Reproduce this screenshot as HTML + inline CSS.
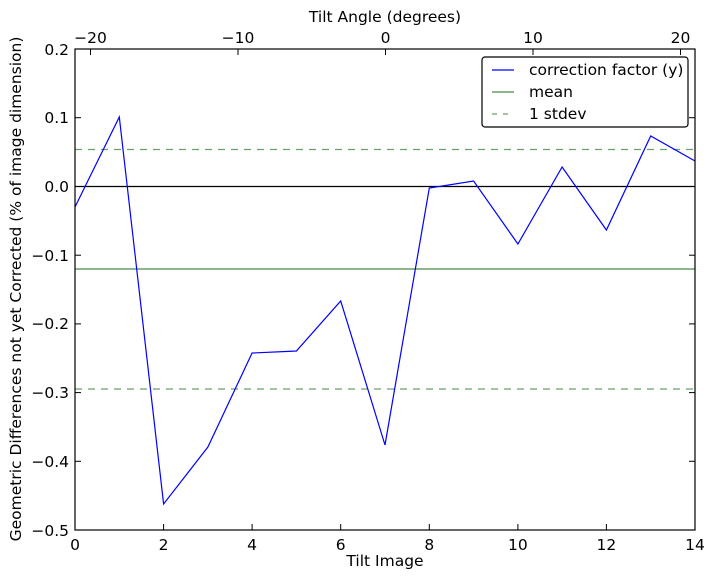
<!DOCTYPE html>
<html><head><style>body{margin:0;background:#fff}svg{display:block}text{font-family:"DejaVu Sans","Liberation Sans",sans-serif;font-size:15.5px;fill:#000}</style></head>
<body>
<svg width="714" height="579" viewBox="0 0 714 579">
<rect width="714" height="579" fill="#fff"/>
<g stroke-width="1.2" fill="none">
<line x1="75" y1="269" x2="695" y2="269" stroke="#4a8a4a"/>
<line x1="75" y1="149.5" x2="695" y2="149.5" stroke-dasharray="7,6" stroke="#6aa06a"/>
<line x1="75" y1="389" x2="695" y2="389" stroke-dasharray="7,6" stroke="#6aa06a"/>
</g>
<line x1="75" y1="186.5" x2="695" y2="186.5" stroke="#000" stroke-width="1.2"/>
<polyline fill="none" stroke="#0000ff" stroke-width="1.2" points="75,207 119.3,117 163.6,504 207.9,447 252.1,353 296.4,351 340.7,301 385,445 429.3,188 473.6,181 517.9,244 562.1,167 606.4,230 650.7,136 695,161"/>
<rect x="75" y="49" width="620" height="481" fill="none" stroke="#000" stroke-width="1.2"/>
<g stroke="#000" stroke-width="1">
<line x1="75" y1="530" x2="75" y2="524"/><line x1="163.6" y1="530" x2="163.6" y2="524"/><line x1="252.1" y1="530" x2="252.1" y2="524"/><line x1="340.7" y1="530" x2="340.7" y2="524"/><line x1="429.3" y1="530" x2="429.3" y2="524"/><line x1="517.9" y1="530" x2="517.9" y2="524"/><line x1="606.4" y1="530" x2="606.4" y2="524"/>
<line x1="90.5" y1="49" x2="90.5" y2="55"/><line x1="238" y1="49" x2="238" y2="55"/><line x1="385.5" y1="49" x2="385.5" y2="55"/><line x1="533" y1="49" x2="533" y2="55"/><line x1="680.5" y1="49" x2="680.5" y2="55"/>
<line x1="75" y1="117.7" x2="81" y2="117.7"/><line x1="75" y1="186.5" x2="81" y2="186.5"/><line x1="75" y1="255.2" x2="81" y2="255.2"/><line x1="75" y1="323.9" x2="81" y2="323.9"/><line x1="75" y1="392.6" x2="81" y2="392.6"/><line x1="75" y1="461.3" x2="81" y2="461.3"/>
<line x1="695" y1="117.7" x2="689" y2="117.7"/><line x1="695" y1="186.5" x2="689" y2="186.5"/><line x1="695" y1="255.2" x2="689" y2="255.2"/><line x1="695" y1="323.9" x2="689" y2="323.9"/><line x1="695" y1="392.6" x2="689" y2="392.6"/><line x1="695" y1="461.3" x2="689" y2="461.3"/>
</g>
<g text-anchor="middle">
<text x="75" y="550">0</text><text x="163.6" y="550">2</text><text x="252.1" y="550">4</text><text x="340.7" y="550">6</text><text x="429.3" y="550">8</text><text x="517.9" y="550">10</text><text x="606.4" y="550">12</text><text x="695" y="550">14</text>
<text x="90.5" y="43">−20</text><text x="238" y="43">−10</text><text x="385.5" y="43">0</text><text x="533" y="43">10</text><text x="680.5" y="43">20</text>
<text x="385" y="566">Tilt Image</text>
<text x="385" y="22">Tilt Angle (degrees)</text>
</g>
<g text-anchor="end">
<text x="69" y="55">0.2</text><text x="69" y="123">0.1</text><text x="69" y="192">0.0</text><text x="69" y="261">−0.1</text><text x="69" y="329">−0.2</text><text x="69" y="398">−0.3</text><text x="69" y="467">−0.4</text><text x="69" y="536">−0.5</text>
</g>
<text transform="translate(21,289) rotate(-90)" text-anchor="middle">Geometric Differences not yet Corrected (% of image dimension)</text>
<rect x="482" y="57" width="206" height="70" rx="3" fill="#fff" stroke="#000" stroke-width="1.2"/>
<line x1="492" y1="70" x2="514" y2="70" stroke="#0000ff" stroke-width="1.2"/>
<line x1="492" y1="92" x2="514" y2="92" stroke="#4a8a4a" stroke-width="1.2"/>
<line x1="492" y1="114" x2="514" y2="114" stroke="#6aa06a" stroke-width="1.2" stroke-dasharray="5,6"/>
<text x="529" y="75">correction factor (y)</text>
<text x="529" y="97">mean</text>
<text x="529" y="119">1 stdev</text>
</svg>
</body></html>
